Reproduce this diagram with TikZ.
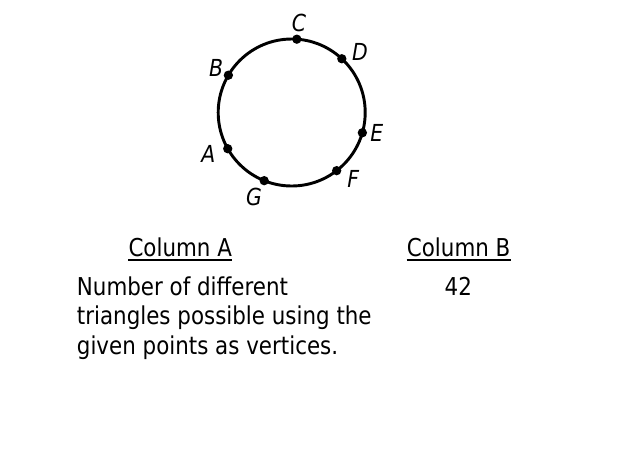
\documentclass[tikz,border=0pt]{standalone}
\usepackage{fontspec}
\setmainfont[FakeStretch=0.87]{DejaVu Sans}
\begin{document}
\begin{tikzpicture}[
    x=0.03cm, y=0.03cm,
    dot/.style={circle, fill=black, inner sep=0pt, minimum size=0.28cm},
    ptlabel/.style={font=\fontsize{20}{22}\selectfont\itshape, inner sep=0pt},
    head/.style={font=\fontsize{21}{25}\selectfont, anchor=base west, inner sep=0pt},
    body/.style={font=\fontsize{21}{25}\selectfont, anchor=base west, inner sep=0pt}
  ]
  \useasboundingbox (0,0) rectangle (620,-464);

  % Circle
  \coordinate (ctr) at (291.7,-112.5);
  \draw[line width=2.5pt] (ctr) circle (73.5);

  % Points on the circle
  \node[dot] (C) at ([shift={(86:73.5)}]ctr)    {};
  \node[dot] (D) at ([shift={(47:73.5)}]ctr)    {};
  \node[dot] (B) at ([shift={(149.5:73.5)}]ctr) {};
  \node[dot] (E) at ([shift={(-16:73.5)}]ctr)   {};
  \node[dot] (A) at ([shift={(209.5:73.5)}]ctr) {};
  \node[dot] (F) at ([shift={(-52.3:73.5)}]ctr) {};
  \node[dot] (G) at ([shift={(248:73.5)}]ctr)   {};

  % Point labels
  \node[ptlabel] (labC) at (299,-22.7)    {C};
  \node[ptlabel] (labD) at (360,-51.7)    {D};
  \node[ptlabel] (labB) at (216,-67.7)    {B};
  \node[ptlabel] (labE) at (376.7,-132.7) {E};
  \node[ptlabel] (labA) at (208.3,-154)   {A};
  \node[ptlabel] (labF) at (353.3,-179)   {F};
  \node[ptlabel] (labG) at (254,-196.7)   {G};

  % Column headings
  \node[head] (colA) at (128.3,-256.7) {Column A};
  \node[head] (colB) at (406.7,-256.7) {Column B};
  \draw[line width=1.1pt] ([yshift=-2.8pt]colA.base west) -- ([yshift=-2.8pt]colA.base east);
  \draw[line width=1.1pt] ([yshift=-2.8pt]colB.base west) -- ([yshift=-2.8pt]colB.base east);

  % Column A text
  \node[body] (lineA) at (76.7,-295)   {Number of different};
  \node[body] (lineB) at (76.7,-324.5) {triangles possible using the};
  \node[body] (lineC) at (76.7,-354)   {given points as vertices.};

  % Column B value
  \node[body] (val) at (444.5,-295.5) {42};
\end{tikzpicture}
\end{document}
